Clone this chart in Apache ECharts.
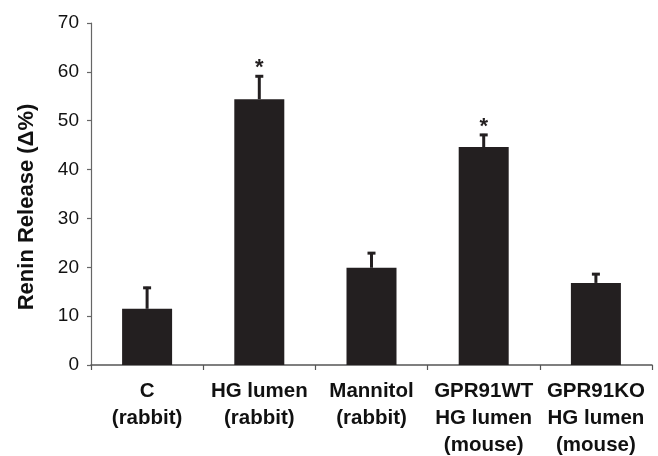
<!DOCTYPE html>
<html>
<head>
<meta charset="utf-8">
<script src="https://cdn.jsdelivr.net/npm/echarts@6/dist/echarts.min.js"></script>
<style>html,body{margin:0;padding:0;background:#fff;}#c{width:658px;height:456px;}</style>
</head>
<body>
<div id="c"></div>
<script>
const categories = ['C\n(rabbit)', 'HG lumen\n(rabbit)', 'Mannitol\n(rabbit)', 'GPR91WT\nHG lumen\n(mouse)', 'GPR91KO\nHG lumen\n(mouse)'];
const means = [11.5, 54.4, 19.9, 44.6, 16.8];
const errors = [4.5, 4.9, 3.2, 2.7, 2.0];
const significance = ['', '*', '', '*', ''];
const yTicks = [0, 10, 20, 30, 40, 50, 60, 70];

const barColor = '#231f20';
const errData = means.map((m, i) => [i, m, m + errors[i], significance[i]]);

const chart = echarts.init(document.getElementById('c'), null, {renderer: 'canvas'});
chart.setOption({
  animation: false,
  backgroundColor: '#fff',
  grid: {left: 91, right: 6, top: 23, bottom: 91, outerBoundsMode: 'none', containLabel: false},
  xAxis: {
    type: 'category',
    data: categories,
    axisLine: {lineStyle: {color: '#555', width: 1.5}},
    axisTick: {show: true, length: 5, lineStyle: {color: '#555', width: 1.2}},
    axisLabel: {
      color: '#111', fontFamily: 'Liberation Sans', fontWeight: 'bold', fontSize: 20.5,
      lineHeight: 27, margin: 13, interval: 0
    }
  },
  yAxis: {
    type: 'value', min: yTicks[0], max: yTicks[yTicks.length - 1], interval: 10,
    name: 'Renin Release (Δ%)', nameLocation: 'middle', nameGap: 53,
    nameTextStyle: {color: '#111', fontFamily: 'Liberation Sans', fontWeight: 'bold', fontSize: 22, padding: [0, 26, 0, 0]},
    axisLine: {show: true, lineStyle: {color: '#666', width: 1.2}},
    axisTick: {show: true, length: 4, lineStyle: {color: '#666', width: 1.2}},
    splitLine: {show: false},
    axisLabel: {color: '#111', fontFamily: 'Liberation Sans', fontSize: 19, margin: 12}
  },
  series: [
    {
      type: 'bar', data: means, barWidth: 50,
      itemStyle: {color: barColor}
    },
    {
      type: 'custom',
      data: errData,
      z: 3,
      renderItem: function (params, api) {
        const i = api.value(0);
        const base = api.coord([i, api.value(1)]);
        const top = api.coord([i, api.value(2)]);
        const star = errData[params.dataIndex][3];
        const children = [
          {type: 'line', shape: {x1: base[0], y1: base[1], x2: top[0], y2: top[1]}, style: {stroke: barColor, lineWidth: 3}},
          {type: 'line', shape: {x1: top[0] - 4, y1: top[1] + 1, x2: top[0] + 4, y2: top[1] + 1}, style: {stroke: barColor, lineWidth: 3}}
        ];
        if (star) {
          children.push({type: 'text', style: {text: star, x: top[0], y: top[1] - 7, align: 'center', verticalAlign: 'middle', fill: barColor, font: 'bold 22px "Liberation Sans"'}});
        }
        return {type: 'group', children: children};
      }
    }
  ]
});
</script>
</body>
</html>
